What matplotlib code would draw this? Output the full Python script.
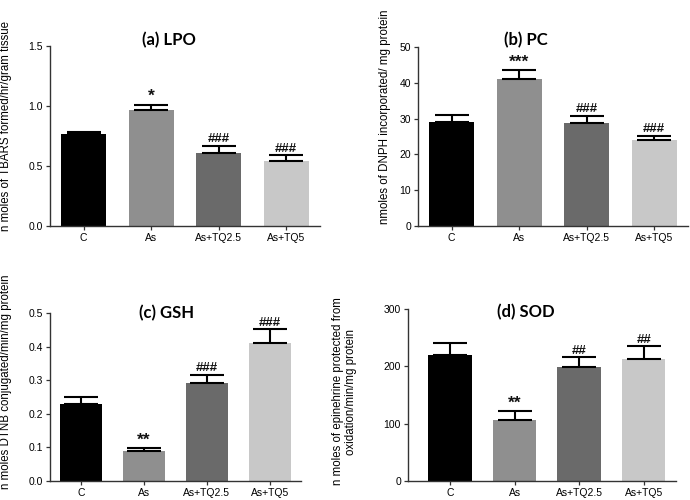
import matplotlib

matplotlib.use("Agg")
from matplotlib import pyplot as plt

plt.rcParams["font.family"] = ["Liberation Sans", "DejaVu Sans"]

groups = ["C", "As", "As+TQ2.5", "As+TQ5"]
bar_colors = ["#000000", "#8f8f8f", "#6a6a6a", "#c8c8c8"]

lpo_mean = [0.77, 0.97, 0.61, 0.54]
lpo_err = [0.01, 0.04, 0.06, 0.05]
lpo_sig = ["", "*", "###", "###"]

pc_mean = [29.0, 41.2, 28.9, 23.9]
pc_err = [2.0, 2.3, 1.9, 1.3]
pc_sig = ["", "***", "###", "###"]

gsh_mean = [0.229, 0.088, 0.292, 0.412]
gsh_err = [0.020, 0.010, 0.023, 0.039]
gsh_sig = ["", "**", "###", "###"]

sod_mean = [220, 107, 199, 212]
sod_err = [21, 15, 17, 23]
sod_sig = ["", "**", "##", "##"]

panels = [
    dict(
        rect=[50 / 690, 0.548, 270 / 690, 0.360],
        mean=lpo_mean, err=lpo_err, sig=lpo_sig,
        ylim=1.5, yticks=[0.0, 0.5, 1.0, 1.5], fmt="{:.1f}",
        title="(a) LPO", title_xy=(0.44, 1.03),
        ylabel="n moles of TBARS formed/hr/gram tissue",
        ylabel_xy=(-0.14, 0.555), xlim=(-0.5, 3.5), sig_pad=0.005,
    ),
    dict(
        rect=[418 / 690, 0.548, 270 / 690, 0.358],
        mean=pc_mean, err=pc_err, sig=pc_sig,
        ylim=50, yticks=[0, 10, 20, 30, 40, 50], fmt="{:d}",
        title="(b) PC", title_xy=(0.40, 1.04),
        ylabel="nmoles of DNPH incorporated/ mg protein",
        ylabel_xy=(-0.10, 0.61), xlim=(-0.5, 3.5), sig_pad=0.2,
    ),
    dict(
        rect=[50 / 690, 0.038, 251 / 690, 0.336],
        mean=gsh_mean, err=gsh_err, sig=gsh_sig,
        ylim=0.5, yticks=[0.0, 0.1, 0.2, 0.3, 0.4, 0.5], fmt="{:.1f}",
        title="(c) GSH", title_xy=(0.465, 1.0),
        ylabel="n moles DTNB conjugated/min/mg protein",
        ylabel_xy=(-0.15, 0.59), xlim=(-0.5, 3.5), sig_pad=0.002,
    ),
    dict(
        rect=[408 / 690, 0.038, 268 / 690, 0.344],
        mean=sod_mean, err=sod_err, sig=sod_sig,
        ylim=300, yticks=[0, 100, 200, 300], fmt="{:d}",
        title="(d) SOD", title_xy=(0.44, 0.98),
        ylabel="n moles of epinehrine protected from\noxidation/min/mg protein",
        ylabel_xy=(-0.19, 0.52), xlim=(-0.65, 3.5), sig_pad=1,
    ),
]

fig = plt.figure(figsize=(6.9, 5.0), dpi=100)

for p in panels:
    ax = fig.add_axes(p["rect"])
    x = list(range(len(groups)))
    ax.bar(x, p["mean"], width=0.67, color=bar_colors, edgecolor="none", zorder=2)
    ax.errorbar(
        x,
        p["mean"],
        yerr=[[0] * len(x), p["err"]],
        fmt="none",
        ecolor="black",
        elinewidth=1.5,
        capsize=12,
        capthick=1.5,
        zorder=3,
    )
    for xi, m, e, s in zip(x, p["mean"], p["err"], p["sig"]):
        if not s:
            continue
        # asterisks sit high in the glyph box, so draw them larger
        size = 12.5 if s.startswith("*") else 9.5
        ax.text(xi, m + e + p["sig_pad"], s, ha="center", va="bottom",
                fontsize=size, fontweight="bold", color="#111111")

    ax.set_xlim(*p["xlim"])
    ax.set_ylim(0, p["ylim"])
    ax.set_xticks(x)
    ax.set_xticklabels(groups, fontsize=7.5)
    ax.set_yticks(p["yticks"])
    ax.set_yticklabels([p["fmt"].format(t) for t in p["yticks"]], fontsize=7.5)
    for side in ("top", "right"):
        ax.spines[side].set_visible(False)
    for side in ("left", "bottom"):
        ax.spines[side].set_linewidth(1.0)
        ax.spines[side].set_color("#333333")
    ax.tick_params(axis="both", length=3, width=0.9, color="#333333", pad=2)

    ax.set_ylabel(p["ylabel"], fontsize=8.3, linespacing=1.1)
    ax.yaxis.set_label_coords(*p["ylabel_xy"])
    ax.text(*p["title_xy"], p["title"], transform=ax.transAxes, ha="center",
            va="center", fontsize=12, fontweight="bold", family=["Lato", "DejaVu Sans"])

fig.savefig("out.png", dpi=100, facecolor="white")
